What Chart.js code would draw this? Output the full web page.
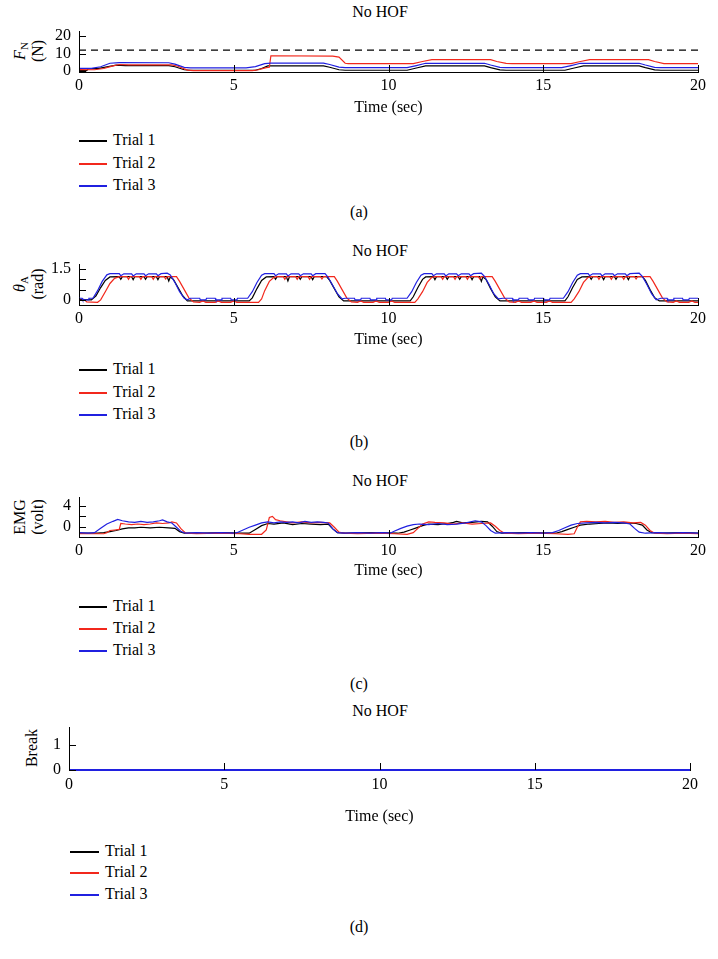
<!DOCTYPE html>
<html lang="en">
<head>
<meta charset="UTF-8">
<title>No HOF</title>
<script src="https://cdn.jsdelivr.net/npm/chart.js"></script>
<style>
  body { margin: 0; background: #fff; color: #000; font-family: 'Liberation Serif', 'Times New Roman', serif; }
  #page { position: relative; width: 718px; height: 959px; overflow: hidden; }
  canvas { position: absolute; left: 0; }
  .txt { position: absolute; transform: translate(-50%, -50%); white-space: nowrap; font-size: 16px; }
  .ytitle { position: absolute; transform: translate(-50%, -50%) rotate(-90deg); white-space: nowrap;
            font-size: 16px; line-height: 18px; text-align: center; }
  .ytitle sub { font-size: 11px; line-height: 0; vertical-align: -3px; }
  .row { position: absolute; height: 20px; line-height: 20px; font-size: 16px; white-space: nowrap; }
  .swatch { position: absolute; top: 10px; height: 1.6px; }
</style>
</head>
<body>
<div id="page">
  <div class="txt" style="left:380px;top:12px">No HOF</div>
  <div class="ytitle" style="left:29px;top:51px"><i>F</i><sub>N</sub><br>(N)</div>
  <canvas id="chartA" width="718" height="117" style="top:0px"></canvas>
  <div id="legendA"></div>
  <div class="txt" style="left:359px;top:212px">(a)</div>

  <div class="txt" style="left:380px;top:251px">No HOF</div>
  <div class="ytitle" style="left:29px;top:284px"><i>θ</i><sub>A</sub><br>(rad)</div>
  <canvas id="chartB" width="718" height="109" style="top:240px"></canvas>
  <div id="legendB"></div>
  <div class="txt" style="left:359px;top:442px">(b)</div>

  <div class="txt" style="left:380px;top:481px">No HOF</div>
  <div class="ytitle" style="left:29px;top:517px">EMG<br>(volt)</div>
  <canvas id="chartC" width="718" height="110" style="top:470px"></canvas>
  <div id="legendC"></div>
  <div class="txt" style="left:359px;top:684px">(c)</div>

  <div class="txt" style="left:380px;top:711px">No HOF</div>
  <div class="ytitle" style="left:32px;top:748px">Break</div>
  <canvas id="chartD" width="718" height="126" style="top:700px"></canvas>
  <div id="legendD"></div>
  <div class="txt" style="left:359px;top:927px">(d)</div>
</div>

<script>
  // ---- data (time in s, value) ----
  const trialNames = ['Trial 1', 'Trial 2', 'Trial 3'];
  const trialColors = ['#000000', '#f2281c', '#2020e0'];
  const timeTicks = [0, 5, 10, 15, 20];
  const xTitle = 'Time (sec)';

  // (a) normal force F_N
  const forceTicks = [0, 10, 20];
  const forceTickLabels = ['0', '10', '20'];
  const forceLimit = 12;
  const force1 = [[0,0.3],[0.25,0.3],[0.3,1.4],[0.6,1.4],[0.9,2.4],[1.2,3.4],[1.5,3.2],[2.9,3.2],[3.1,2.5],[3.4,0.8],[3.6,0.5],[5.7,0.5],[5.9,1.5],[6.1,3.0],[7.9,3.0],[8.1,2.2],[8.4,0.8],[8.6,0.5],[10.6,0.5],[10.9,1.8],[11.2,3.0],[13.1,3.0],[13.3,2.0],[13.6,0.7],[13.8,0.5],[15.7,0.5],[16.0,1.8],[16.3,3.0],[18.1,3.0],[18.3,2.0],[18.6,0.7],[18.8,0.5],[20,0.5]];
  const force2 = [[0,0.9],[0.5,0.8],[0.8,1.5],[1.1,3.0],[1.3,3.8],[1.6,3.6],[3.0,3.6],[3.2,2.8],[3.5,0.6],[3.7,0.3],[5.6,0.3],[5.8,0.8],[6.05,2.0],[6.15,2.2],[6.2,8.8],[8.2,8.6],[8.4,8.0],[8.6,4.5],[8.7,4.3],[10.8,4.3],[11.1,5.5],[11.4,6.6],[13.3,6.6],[13.5,5.5],[13.8,4.4],[14.0,4.3],[15.9,4.3],[16.2,5.5],[16.5,6.6],[18.4,6.6],[18.6,5.5],[18.9,4.3],[20,4.3]];
  const force3 = [[0,1.6],[0.4,1.6],[0.7,2.5],[1.0,4.5],[1.3,4.9],[2.9,4.8],[3.1,4.0],[3.4,2.2],[3.6,1.9],[5.4,1.9],[5.7,2.6],[6.0,4.3],[6.2,4.6],[7.9,4.6],[8.1,3.8],[8.4,2.3],[8.6,2.0],[10.6,2.0],[10.9,3.2],[11.2,4.5],[13.1,4.5],[13.3,3.5],[13.6,2.2],[13.8,2.0],[15.6,2.0],[15.9,3.2],[16.2,4.5],[18.1,4.5],[18.3,3.5],[18.6,2.2],[18.8,2.0],[20,2.0]];

  // (b) angle theta_A
  const angleTicks = [0, 0.5, 1, 1.5];
  const angleTickLabels = ['0', '', '', '1.5'];
  const angle1 = [[0,0.02],[0.4,0.0],[0.55,0.2],[0.7,0.6],[0.85,0.95],[1.0,1.12],[1.3,1.13],[1.35,1.0],[1.4,1.13],[1.7,1.13],[1.75,0.98],[1.8,1.13],[2.1,1.13],[2.15,1.0],[2.2,1.13],[2.5,1.13],[2.55,0.98],[2.6,1.13],[2.85,1.13],[2.9,0.92],[2.95,1.12],[3.05,1.0],[3.2,0.6],[3.35,0.2],[3.5,-0.05],[5.5,-0.05],
    [5.6,0.1],[5.75,0.55],[5.9,0.95],[6.05,1.12],[6.3,1.13],[6.35,1.0],[6.4,1.13],[6.7,1.13],[6.75,0.92],[6.8,1.13],[7.1,1.13],[7.15,1.0],[7.2,1.13],[7.5,1.13],[7.55,0.98],[7.6,1.13],[8.0,1.13],[8.1,0.95],[8.25,0.55],[8.4,0.15],[8.55,-0.05],[10.7,-0.05],
    [10.8,0.15],[10.95,0.6],[11.1,1.0],[11.2,1.12],[11.45,1.13],[11.5,0.98],[11.55,1.13],[11.85,1.13],[11.9,1.0],[11.95,1.13],[12.25,1.13],[12.3,1.0],[12.35,1.13],[12.65,1.13],[12.7,0.98],[12.75,1.13],[12.95,1.13],[13.0,0.9],[13.05,1.12],[13.15,1.0],[13.3,0.55],[13.45,0.15],[13.6,-0.05],[15.7,-0.05],
    [15.8,0.15],[15.95,0.6],[16.1,1.0],[16.25,1.12],[16.5,1.13],[16.55,1.0],[16.6,1.13],[16.9,1.13],[16.95,0.98],[17.0,1.13],[17.3,1.13],[17.35,1.0],[17.4,1.13],[17.7,1.13],[17.75,0.98],[17.8,1.13],[18.2,1.13],[18.3,0.95],[18.45,0.5],[18.6,0.1],[18.75,-0.05],[20,-0.05]];
  const angle2 = [[0,-0.02],[0.2,-0.02],[0.25,-0.1],[0.6,-0.12],[0.7,0.0],[0.85,0.4],[1.0,0.8],[1.15,1.05],[1.3,1.13],[1.55,1.13],[1.6,1.0],[1.65,1.13],[1.95,1.13],[2.0,1.0],[2.05,1.13],[2.35,1.13],[2.4,1.0],[2.45,1.13],[2.75,1.13],[2.8,1.02],[2.85,1.13],[3.15,1.13],[3.25,0.9],[3.4,0.5],[3.55,0.1],[3.7,-0.1],[3.9,-0.12],[4.0,-0.05],[4.1,-0.12],[4.4,-0.12],[4.5,-0.05],[4.6,-0.12],[4.9,-0.12],[5.0,-0.05],[5.1,-0.12],[5.8,-0.12],
    [5.9,0.05],[6.0,0.45],[6.15,0.9],[6.3,1.1],[6.4,1.13],[6.6,1.13],[6.65,1.0],[6.7,1.13],[7.0,1.13],[7.05,1.0],[7.1,1.13],[7.4,1.13],[7.45,1.0],[7.5,1.13],[7.8,1.13],[7.85,1.02],[7.9,1.13],[8.25,1.13],[8.35,0.9],[8.5,0.5],[8.65,0.1],[8.8,-0.1],[9.0,-0.12],[9.1,-0.05],[9.2,-0.12],[9.5,-0.12],[9.6,-0.05],[9.7,-0.12],[10.0,-0.12],[10.1,-0.05],[10.2,-0.12],[10.85,-0.12],
    [10.95,0.05],[11.1,0.4],[11.25,0.85],[11.4,1.1],[11.5,1.13],[11.7,1.13],[11.75,1.0],[11.8,1.13],[12.1,1.13],[12.15,1.0],[12.2,1.13],[12.5,1.13],[12.55,1.0],[12.6,1.13],[12.9,1.13],[12.95,1.02],[13.0,1.13],[13.35,1.13],[13.45,0.9],[13.6,0.5],[13.75,0.1],[13.9,-0.1],[14.1,-0.12],[14.2,-0.05],[14.3,-0.12],[14.6,-0.12],[14.7,-0.05],[14.8,-0.12],[15.1,-0.12],[15.2,-0.05],[15.3,-0.12],[15.9,-0.12],
    [16.0,0.05],[16.15,0.4],[16.3,0.85],[16.45,1.1],[16.55,1.13],[16.75,1.13],[16.8,1.0],[16.85,1.13],[17.15,1.13],[17.2,1.0],[17.25,1.13],[17.55,1.13],[17.6,1.0],[17.65,1.13],[17.95,1.13],[18.0,1.02],[18.05,1.13],[18.45,1.13],[18.55,0.9],[18.7,0.5],[18.85,0.1],[19.0,-0.1],[19.2,-0.12],[19.3,-0.05],[19.4,-0.12],[19.7,-0.12],[19.8,-0.05],[19.9,-0.12],[20,-0.12]];
  const angle3 = [[0,0.08],[0.1,0.08],[0.12,0.0],[0.3,0.0],[0.32,0.08],[0.45,0.08],[0.6,0.45],[0.75,0.9],[0.9,1.22],[1.0,1.28],[1.3,1.28],[1.35,1.18],[1.45,1.27],[1.7,1.27],[1.75,1.17],[1.85,1.27],[2.1,1.27],[2.15,1.18],[2.25,1.27],[2.5,1.27],[2.55,1.18],[2.65,1.28],[2.85,1.3],[2.95,1.22],[3.1,0.85],[3.25,0.4],[3.4,0.08],[3.5,0.0],[3.6,0.08],[3.9,0.08],[3.92,0.0],[4.1,0.0],[4.12,0.08],[4.4,0.08],[4.42,0.0],[4.6,0.0],[4.62,0.08],[4.9,0.08],[4.92,0.0],[5.1,0.0],[5.12,0.08],[5.45,0.08],
    [5.6,0.4],[5.75,0.85],[5.9,1.2],[6.0,1.28],[6.3,1.28],[6.35,1.18],[6.45,1.27],[6.7,1.27],[6.75,1.17],[6.85,1.27],[7.1,1.27],[7.15,1.18],[7.25,1.27],[7.5,1.27],[7.55,1.18],[7.65,1.28],[7.95,1.28],[8.05,1.1],[8.2,0.7],[8.35,0.3],[8.5,0.05],[8.6,0.08],[8.9,0.08],[8.92,0.0],[9.1,0.0],[9.12,0.08],[9.4,0.08],[9.42,0.0],[9.6,0.0],[9.62,0.08],[9.9,0.08],[9.92,0.0],[10.1,0.0],[10.12,0.08],[10.6,0.08],
    [10.75,0.4],[10.9,0.85],[11.05,1.2],[11.15,1.28],[11.4,1.28],[11.45,1.18],[11.55,1.27],[11.8,1.27],[11.85,1.17],[11.95,1.27],[12.2,1.27],[12.25,1.18],[12.35,1.27],[12.6,1.27],[12.65,1.18],[12.75,1.28],[13.0,1.3],[13.1,1.15],[13.25,0.75],[13.4,0.3],[13.55,0.05],[13.7,0.08],[14.0,0.08],[14.02,0.0],[14.2,0.0],[14.22,0.08],[14.5,0.08],[14.52,0.0],[14.7,0.0],[14.72,0.08],[15.0,0.08],[15.02,0.0],[15.2,0.0],[15.22,0.08],[15.65,0.08],
    [15.8,0.4],[15.95,0.85],[16.1,1.2],[16.2,1.28],[16.45,1.28],[16.5,1.18],[16.6,1.27],[16.85,1.27],[16.9,1.17],[17.0,1.27],[17.25,1.27],[17.3,1.18],[17.4,1.27],[17.65,1.27],[17.7,1.18],[17.8,1.28],[18.1,1.3],[18.2,1.15],[18.35,0.75],[18.5,0.3],[18.65,0.0],[18.8,0.08],[19.0,0.08],[19.02,0.0],[19.2,0.0],[19.22,0.08],[19.5,0.08],[19.52,0.0],[19.7,0.0],[19.72,0.08],[20,0.08]];

  // (c) EMG
  const emgTicks = [0, 2, 4];
  const emgTickLabels = ['0', '', '4'];
  const emg1 = [[0,-1.1],[0.6,-1.1],[0.8,-1.0],[1.0,-0.8],[1.2,-0.6],[1.4,-0.3],[1.6,-0.1],[1.8,-0.1],[2.0,0.0],[2.3,-0.1],[2.6,0.0],[2.9,-0.1],[3.1,-0.2],[3.25,-0.8],[3.4,-1.1],[4.0,-1.1],[4.6,-1.0],[5.2,-1.1],[5.5,-1.1],[5.7,-0.4],[5.9,0.3],[6.1,0.7],[6.3,0.6],[6.6,0.8],[6.9,0.5],[7.2,0.7],[7.5,0.6],[7.8,0.5],[8.05,0.6],[8.2,-0.3],[8.35,-1.0],[8.6,-1.1],[9.5,-1.0],[10.3,-1.1],[10.5,-0.9],[10.7,-0.5],[10.9,-0.1],[11.1,0.3],[11.3,0.6],[11.6,0.5],[11.9,0.7],[12.1,0.9],[12.2,1.1],[12.4,0.8],[12.7,0.9],[13.0,1.1],[13.2,1.0],[13.35,0.2],[13.5,-0.8],[13.65,-1.1],[14.5,-1.0],[15.4,-1.1],[15.6,-0.8],[15.8,-0.4],[16.0,0.0],[16.2,0.4],[16.5,0.6],[16.8,0.7],[17.1,0.8],[17.4,0.7],[17.7,0.8],[18.0,0.7],[18.2,0.4],[18.35,-0.5],[18.5,-1.0],[18.8,-1.1],[19.5,-1.0],[20,-1.1]];
  const emg2 = [[0,-1.2],[0.8,-1.2],[0.9,-1.0],[1.0,-0.6],[1.15,-0.5],[1.3,-0.4],[1.35,0.7],[1.5,0.6],[1.7,0.5],[1.9,0.6],[2.1,0.5],[2.3,0.6],[2.5,0.8],[2.7,0.7],[2.9,0.8],[3.0,1.0],[3.15,0.8],[3.3,-0.3],[3.45,-1.1],[3.8,-1.2],[4.5,-1.1],[5.2,-1.2],[5.5,-1.3],[5.9,-1.3],[6.05,-0.5],[6.15,1.8],[6.25,2.0],[6.35,1.4],[6.5,1.2],[6.7,1.0],[6.9,0.8],[7.2,1.0],[7.5,0.8],[7.8,0.9],[8.1,0.8],[8.25,0.0],[8.4,-0.9],[8.55,-1.1],[9.0,-1.2],[9.6,-1.1],[10.2,-1.2],[10.6,-1.3],[10.8,-1.0],[10.95,-0.2],[11.1,0.6],[11.3,1.0],[11.5,0.9],[11.8,0.8],[12.1,0.6],[12.4,0.8],[12.7,0.6],[13.0,0.7],[13.3,0.8],[13.45,0.2],[13.6,-0.6],[13.75,-1.1],[14.2,-1.2],[14.8,-1.1],[15.4,-1.2],[15.8,-1.3],[16.0,-1.2],[16.1,0.0],[16.2,1.0],[16.4,1.1],[16.7,1.0],[17.0,1.1],[17.3,0.9],[17.6,1.0],[17.9,0.8],[18.15,0.9],[18.3,0.4],[18.45,-0.6],[18.6,-1.1],[19.0,-1.2],[19.5,-1.1],[20,-1.2]];
  const emg3 = [[0,-1.0],[0.3,-1.1],[0.5,-1.0],[0.7,-0.2],[0.9,0.6],[1.1,1.1],[1.25,1.45],[1.4,1.2],[1.6,1.0],[1.8,0.9],[2.0,1.1],[2.2,0.9],[2.4,1.0],[2.6,1.2],[2.7,1.35],[2.85,1.0],[3.0,0.8],[3.15,0.0],[3.3,-0.8],[3.45,-1.1],[3.8,-1.0],[4.2,-1.1],[4.6,-1.0],[5.0,-1.1],[5.1,-1.0],[5.3,-0.5],[5.5,0.0],[5.7,0.4],[5.9,0.8],[6.1,1.0],[6.3,0.8],[6.5,1.0],[6.7,0.9],[6.9,1.0],[7.1,0.8],[7.3,1.1],[7.5,0.9],[7.7,1.0],[7.9,0.9],[8.05,0.8],[8.2,-0.3],[8.35,-1.0],[8.6,-1.1],[9.0,-1.0],[9.4,-1.1],[9.8,-1.0],[10.05,-1.1],[10.2,-0.7],[10.4,-0.2],[10.6,0.2],[10.8,0.5],[11.0,0.6],[11.3,0.5],[11.6,0.7],[11.9,0.5],[12.2,0.6],[12.5,0.8],[12.8,1.2],[13.0,1.0],[13.15,0.3],[13.3,-0.6],[13.45,-1.1],[13.8,-1.0],[14.2,-1.1],[14.6,-1.0],[15.0,-1.1],[15.3,-1.0],[15.5,-0.6],[15.7,-0.1],[15.9,0.4],[16.1,0.7],[16.4,0.8],[16.7,0.9],[17.0,0.8],[17.3,0.9],[17.6,0.8],[17.8,0.6],[17.95,-0.2],[18.1,-0.9],[18.3,-1.1],[18.7,-1.0],[19.1,-1.1],[19.5,-1.0],[20,-1.1]];

  // (d) break
  const breakTicks = [0, 1];
  const breakTickLabels = ['0', '1'];
  const break1 = [[0,0],[20,0]];
  const break2 = [[0,0],[20,0]];
  const break3 = [[0,0],[20,0]];

  const serif = "'Liberation Serif', 'Times New Roman', serif";
  Chart.defaults.font.family = serif;
  Chart.defaults.font.size = 16;
  Chart.defaults.color = '#000';

  // inward tick marks, like the original figure
  const innerTicks = {
    id: 'innerTicks',
    afterDatasetsDraw(chart) {
      const { ctx, chartArea: a, scales: { x, y } } = chart;
      ctx.save();
      ctx.strokeStyle = '#000';
      ctx.lineWidth = 1;
      ctx.beginPath();
      x.ticks.forEach(t => {
        const px = Math.round(x.getPixelForValue(t.value)) + 0.5;
        ctx.moveTo(px, a.bottom);
        ctx.lineTo(px, a.bottom - 7);
      });
      y.ticks.forEach(t => {
        const py = Math.round(y.getPixelForValue(t.value)) + 0.5;
        ctx.moveTo(a.left, py);
        ctx.lineTo(a.left + 7, py);
      });
      ctx.stroke();
      ctx.restore();
    }
  };

  function toXY(arr) {
    return arr.map(p => ({ x: p[0], y: p[1] }));
  }

  function makePanel(id, p) {
    const datasets = p.series.map((s, i) => ({
      label: trialNames[i],
      data: toXY(s),
      borderColor: trialColors[i],
      borderWidth: p.lw || 1.2,
      clip: 3,
      order: 2 - i
    }));
    if (p.extra) datasets.push(p.extra);

    new Chart(document.getElementById(id), {
      type: 'line',
      data: { datasets },
      options: {
        responsive: false,
        animation: false,
        layout: { padding: { top: p.top, right: 718 - p.right, bottom: 0, left: 0 } },
        elements: { point: { radius: 0 }, line: { tension: 0 } },
        plugins: { legend: { display: false }, tooltip: { enabled: false } },
        scales: {
          x: {
            type: 'linear', min: 0, max: 20,
            afterBuildTicks: s => { s.ticks = timeTicks.map(v => ({ value: v })); },
            afterFit: s => { s.height = p.xh; },
            grid: { display: false, drawTicks: false },
            border: { display: true, color: '#000', width: 1 },
            ticks: { padding: p.xpad, maxRotation: 0, autoSkip: false, color: '#000' },
            title: { display: true, text: xTitle, color: '#000', padding: 0 }
          },
          y: {
            type: 'linear', min: p.min, max: p.max,
            afterBuildTicks: s => { s.ticks = p.ticks.map(v => ({ value: v })); },
            afterFit: s => { s.width = p.left; },
            grid: { display: false, drawTicks: false },
            border: { display: true, color: '#000', width: 1 },
            ticks: { padding: 8, autoSkip: false, color: '#000', callback: v => p.labels[p.ticks.indexOf(v)] }
          }
        }
      },
      plugins: [innerTicks]
    });
  }

  function makeLegend(id, rows, lineX, textX) {
    const box = document.getElementById(id);
    trialNames.forEach((name, i) => {
      const row = document.createElement('div');
      row.className = 'row';
      row.style.left = lineX + 'px';
      row.style.top = (rows[i] - 10) + 'px';
      row.style.paddingLeft = (textX - lineX) + 'px';
      const line = document.createElement('div');
      line.className = 'swatch';
      line.style.left = '0px';
      line.style.width = (textX - lineX - 6) + 'px';
      line.style.background = trialColors[i];
      row.appendChild(line);
      row.appendChild(document.createTextNode(name));
      box.appendChild(row);
    });
  }

  makePanel('chartA', {
    series: [force1, force2, force3], min: -0.5, max: 23,
    ticks: forceTicks, labels: forceTickLabels,
    top: 31, left: 79, right: 698, xh: 45, xpad: 4,
    extra: {
      label: 'limit', data: toXY([[0, forceLimit], [20, forceLimit]]),
      borderColor: '#000', borderWidth: 1.2, borderDash: [7, 5], order: 3
    }
  });
  makePanel('chartB', {
    series: [angle1, angle2, angle3], min: -0.25, max: 1.75,
    ticks: angleTicks, labels: angleTickLabels,
    top: 24, left: 79, right: 698, xh: 44, xpad: 4
  });
  makePanel('chartC', {
    series: [emg1, emg2, emg3], min: -1.8, max: 5.6,
    ticks: emgTicks, labels: emgTickLabels,
    top: 27, left: 79, right: 698, xh: 43, xpad: 4
  });
  makePanel('chartD', {
    series: [break1, break2, break3], min: 0, max: 1.7,
    ticks: breakTicks, labels: breakTickLabels,
    top: 27, left: 69, right: 690, xh: 56, xpad: 5, lw: 2
  });

  makeLegend('legendA', [140, 163, 185], 79, 113);
  makeLegend('legendB', [369, 392, 414], 79, 113);
  makeLegend('legendC', [606, 628, 650], 79, 113);
  makeLegend('legendD', [851, 872, 894], 70, 105);
</script>
</body>
</html>
